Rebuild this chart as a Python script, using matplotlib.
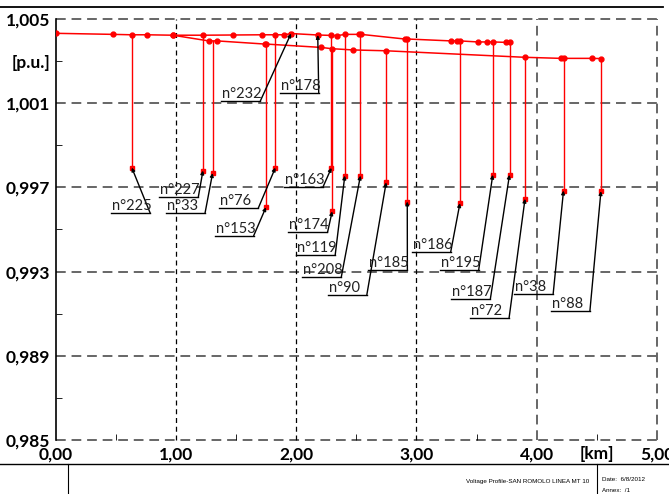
# -*- coding: utf-8 -*-
import numpy as np
import matplotlib.pyplot as plt
from matplotlib.lines import Line2D
from matplotlib.transforms import offset_copy

plt.rcParams['font.family'] = ['Lato', 'DejaVu Sans']

# feeder profile, upper branch (km, p.u.)
upper_km = [0.0, 0.476, 0.634, 0.759, 0.976, 1.226, 1.475, 1.717, 1.828, 1.903, 1.958,
            2.180, 2.294, 2.344, 2.405, 2.527, 2.540, 2.902, 2.924, 3.285, 3.335, 3.360,
            3.510, 3.590, 3.634, 3.743, 3.776]
upper_v = [1.00432, 1.00427, 1.00425, 1.00425, 1.00423, 1.00423, 1.00424, 1.00425, 1.00425,
           1.00425, 1.00431, 1.00424, 1.00422, 1.00421, 1.00427, 1.00427, 1.00427, 1.00405,
           1.00405, 1.00396, 1.00396, 1.00396, 1.00391, 1.00391, 1.00391, 1.00389, 1.00389]

# lower branch
lower_km = [0.976, 1.272, 1.342, 1.739, 1.750, 2.208, 2.296, 2.473, 2.749, 3.903, 4.201,
            4.223, 4.456, 4.534]
lower_v = [1.00423, 1.00396, 1.00396, 1.00381, 1.00381, 1.00365, 1.00359, 1.00353, 1.00349,
           1.00318, 1.00313, 1.00313, 1.00313, 1.00312]

# labelled nodes: name, distance, feeder voltage, node voltage
node_names = ['n°225', 'n°227', 'n°33', 'n°76', 'n°153', 'n°163', 'n°174', 'n°119', 'n°208',
              'n°90', 'n°185', 'n°186', 'n°195', 'n°187', 'n°72', 'n°38', 'n°88',
              'n°232', 'n°178']
node_km = [0.634, 1.226, 1.306, 1.828, 1.750, 2.294, 2.300, 2.405, 2.535, 2.749, 2.924,
           3.362, 3.635, 3.774, 3.903, 4.223, 4.534, 1.958, 2.180]
node_top = [1.00425, 1.00423, 1.00396, 1.00425, 1.00381, 1.00422, 1.00359, 1.00427, 1.00427,
            1.00349, 1.00405, 1.00396, 1.00391, 1.00389, 1.00318, 1.00313, 1.00312,
            1.00431, 1.00424]
node_v = [0.99794, 0.99780, 0.99768, 0.99794, 0.99606, 0.99793, 0.99586, 0.99756, 0.99756,
          0.99724, 0.99633, 0.99625, 0.99760, 0.99760, 0.99646, 0.99685, 0.99682,
          1.00431, 1.00424]

# where the callouts sit (left end of underline)
lab_x = [0.462, 0.862, 0.918, 1.361, 1.322, 1.900, 1.936, 2.000, 2.050, 2.263, 2.600,
         2.960, 3.193, 3.290, 3.445, 3.812, 4.117, 1.378, 1.863]
lab_y = [0.99578, 0.99654, 0.99578, 0.99602, 0.99470, 0.99704, 0.99486, 0.99379, 0.99272,
         0.99190, 0.99309, 0.99393, 0.99309, 0.99171, 0.99078, 0.99195, 0.99111,
         1.00111, 1.00150]
ul_len = 0.325

x_ticks = [0, 1, 2, 3, 4, 5]
x_labels = ['0,00', '1,00', '2,00', '3,00', '4,00', '5,00']
y_ticks = [0.985, 0.989, 0.993, 0.997, 1.001, 1.005]
y_labels = ['0,985', '0,989', '0,993', '0,997', '1,001', '1,005']

fig = plt.figure(figsize=(6.69, 4.94), dpi=100)
ax = fig.add_axes([55.5/669, 1-440/494, (657-55.5)/669, (440-19)/494])
ax.set_xlim(0, 5)
ax.set_ylim(0.985, 1.005)

# grid
for y in y_ticks:
    ax.axhline(y, color='#666666', lw=1.4, ls=(0, (5, 3)), zorder=1, clip_on=False)
for x in x_ticks[1:]:
    if x < 4:
        ax.axvline(x, color='black', lw=0.9, ls=(0, (4, 3)), zorder=1, clip_on=False)
    else:
        ax.axvline(x, color='#666666', lw=1.4, ls=(0, (5, 3)), zorder=1, clip_on=False)

for s in ['top', 'right', 'bottom']:
    ax.spines[s].set_visible(False)
ax.spines['left'].set_linewidth(1.2)

ax.set_xticks(x_ticks)
ax.set_xticklabels(x_labels, fontsize=12.5, fontweight='bold')
ax.set_yticks(y_ticks)
ax.set_yticklabels(y_labels, fontsize=12.5, fontweight='bold')
xm = np.arange(0.5, 5, 1.0)
ax.set_xticks(xm, minor=True)
ax.set_xticklabels(['' if v != 4.5 else '[km]' for v in xm], minor=True,
                   fontsize=12.5, fontweight='bold')
ym = [0.987, 0.991, 0.995, 0.999, 1.003]
ax.set_yticks(ym, minor=True)
ax.set_yticklabels(['' if v != 1.003 else '[p.u.]' for v in ym], minor=True,
                   fontsize=12.5, fontweight='bold')
ax.tick_params(which='both', direction='in')
ax.tick_params(axis='y', which='both', pad=4)
ax.tick_params(axis='x', which='both', pad=4.5)
ax.tick_params(which='major', length=0)
ax.tick_params(which='minor', length=4)

# feeder lines
ax.plot(upper_km, upper_v, color='red', lw=1.1, marker='o', ms=3.5, zorder=3)
ax.plot(lower_km, lower_v, color='red', lw=1.1, marker='o', ms=3.5, zorder=3)

# drops to nodes
for k, t, v in zip(node_km, node_top, node_v):
    ax.plot([k, k], [t, v], color='red', lw=1.0, zorder=3)
    ax.plot(k, v, marker='s', color='red', ms=3, zorder=4)

# callouts
txt_tr = offset_copy(ax.transData, fig=fig, x=1, y=3, units='dots')
for name, k, v, lx, ly in zip(node_names, node_km, node_v, lab_x, lab_y):
    ax.plot([lx, lx + ul_len], [ly, ly], color='black', lw=1.0, zorder=5)
    ax.annotate('', xy=(k, v), xytext=(lx + ul_len, ly),
                arrowprops=dict(arrowstyle='-|>', color='black', lw=1.0,
                                mutation_scale=5, shrinkA=0, shrinkB=0), zorder=5)
    ax.text(lx, ly, name, transform=txt_tr, fontsize=10.5, va='baseline', ha='left',
            color='#222222', zorder=5)

# page frame / title block
fig.add_artist(Line2D([0, 663/669], [1-7/494, 1-7/494], color='black', lw=1.3))
fig.add_artist(Line2D([0, 1], [1-464/494, 1-464/494], color='black', lw=1.0))
fig.add_artist(Line2D([68/669, 68/669], [0, 1-464/494], color='black', lw=0.8))
fig.add_artist(Line2D([597/669, 597/669], [0, 1-464/494], color='black', lw=0.8))
fig.text(589/669, 1-481/494, 'Voltage Profile-SAN ROMOLO LINEA MT 10', fontsize=4.5,
         family='Liberation Sans', ha='right', va='center')
fig.text(602/669, 1-479/494, 'Date:  6/8/2012', fontsize=4.5, family='Liberation Sans',
         ha='left', va='center')
fig.text(602/669, 1-490/494, 'Annex:  /1', fontsize=4.5, family='Liberation Sans',
         ha='left', va='center')

fig.savefig('out.png', dpi=100)
